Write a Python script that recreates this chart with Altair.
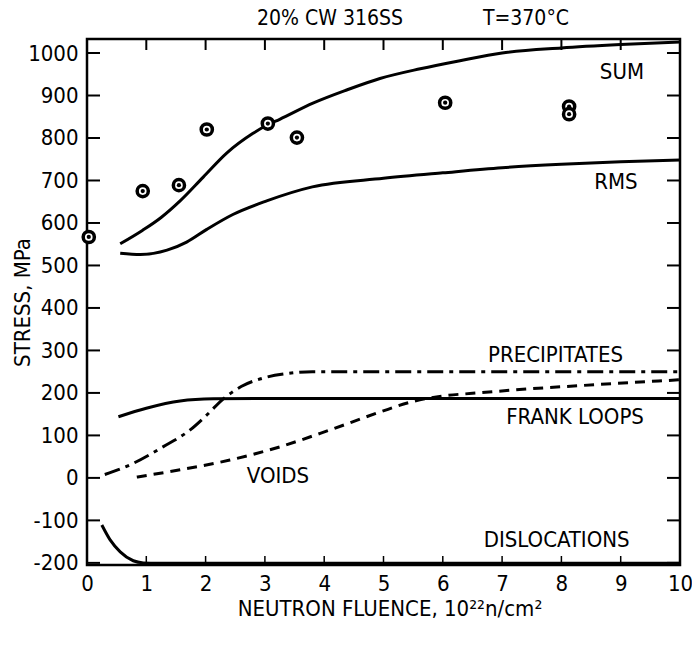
import altair as alt
import pandas as pd

# Curve data: neutron fluence (10^22 n/cm^2) vs. stress contribution (MPa)
sum_x = [0.56, 0.94, 1.25, 1.57, 1.96, 2.36, 2.8, 3.03, 3.25, 3.81, 4.38, 4.94, 5.62, 6.29, 7.0, 8.0, 9.0, 10.0]
sum_y = [551, 583, 613, 652, 708, 765, 811, 830, 844, 882, 913, 940, 963, 982, 1000, 1012, 1020, 1026]

rms_x = [0.56, 0.9, 1.35, 1.68, 2.02, 2.46, 3.03, 3.8, 5.0, 6.0, 7.0, 8.0, 9.0, 10.0]
rms_y = [529, 526, 536, 555, 585, 620, 652, 685, 705, 718, 730, 738, 744, 748]

frank_x = [0.53, 1.0, 1.57, 2.13, 3.0, 10.0]
frank_y = [144, 164, 181, 186, 187, 187]

precip_x = [0.3, 0.73, 1.28, 1.74, 2.02, 2.29, 2.6, 3.0, 3.4, 3.8, 10.0]
precip_y = [8, 31, 73, 113, 148, 185, 215, 236, 246, 250, 250]

voids_x = [0.84, 1.57, 2.41, 3.25, 4.1, 4.94, 5.5, 6.07, 6.5, 7.5, 8.65, 10.0]
voids_y = [2, 19, 42, 73, 113, 155, 180, 194, 199, 210, 220, 231]

disl_x = [0.25, 0.39, 0.56, 0.78, 0.95, 1.2, 10.0]
disl_y = [-111, -146, -174, -195, -200, -201, -201]

# Measured yield stresses
meas_x = [0.03, 0.94, 1.55, 2.02, 3.05, 3.54, 6.04, 8.13, 8.13]
meas_y = [567, 675, 689, 820, 834, 801, 883, 874, 856]

# Curve labels
label_text = ["SUM", "RMS", "PRECIPITATES", "FRANK LOOPS", "VOIDS", "DISLOCATIONS"]
label_x = [9.02, 8.92, 7.9, 8.23, 3.22, 7.92]
label_y = [955, 696, 289, 143, 5, -146]

# Axis ticks
x_ticks = list(range(0, 11))
y_ticks = list(range(-200, 1001, 100))

W, H = 593, 526
FONT = "DejaVu Sans Condensed, Liberation Sans Narrow, sans-serif"
X_DOM = [0, 10]
Y_DOM = [-205, 1033]

xs = alt.Scale(domain=X_DOM, nice=False, zero=False)
ys = alt.Scale(domain=Y_DOM, nice=False, zero=False)

X_AX = alt.Axis(
    values=x_ticks, labelExpr="'' + datum.value", ticks=False, domain=False, grid=False,
    labelFontSize=22, labelFont=FONT, labelPadding=8, labelColor="black", labelFlush=False,
    title="NEUTRON FLUENCE, 10²²n/cm²", titleFont=FONT, titleFontSize=22,
    titleFontWeight="normal", titleColor="black",
    titleX=W / 2 + 6, titleY=43, titleBaseline="middle", titleAlign="center",
)
Y_AX = alt.Axis(
    values=y_ticks, labelExpr="'' + datum.value", ticks=False, domain=False, grid=False,
    labelFontSize=22, labelFont=FONT, labelPadding=9, labelColor="black", labelFlush=False,
    title="STRESS, MPa", titleFont=FONT, titleFontSize=22,
    titleFontWeight="normal", titleColor="black",
    titleX=-65, titleY=H / 2, titleBaseline="middle", titleAlign="center", titleAngle=270,
)


def xq(field):
    return alt.X(f"{field}:Q", scale=xs, axis=X_AX)


def yq(field):
    return alt.Y(f"{field}:Q", scale=ys, axis=Y_AX)


def curve(xv, yv, dash=None):
    kw = dict(color="black", strokeWidth=3, interpolate="monotone", clip=False)
    if dash:
        kw["strokeDash"] = dash
    return alt.Chart(pd.DataFrame({"x": xv, "y": yv})).mark_line(**kw).encode(
        x=xq("x"), y=yq("y"))


# Inward-pointing tick marks on all four sides
ydf = pd.DataFrame({"y": y_ticks})
xdf = pd.DataFrame({"x": x_ticks[1:-1]})
tick_left = alt.Chart(ydf).mark_rule(color="black", strokeWidth=2).encode(
    y=yq("y"), x=alt.value(0), x2=alt.value(13))
tick_right = alt.Chart(ydf).mark_rule(color="black", strokeWidth=2).encode(
    y=yq("y"), x=alt.value(W - 13), x2=alt.value(W))
tick_bottom = alt.Chart(xdf).mark_rule(color="black", strokeWidth=1.5).encode(
    x=xq("x"), y=alt.value(H), y2=alt.value(H - 9))
tick_top = alt.Chart(xdf).mark_rule(color="black", strokeWidth=2).encode(
    x=xq("x"), y=alt.value(0), y2=alt.value(11))

# Plot frame
frame = alt.Chart(pd.DataFrame({"k": [0]})).mark_rect(
    filled=False, stroke="black", strokeWidth=2.5,
).encode(x=alt.value(0), x2=alt.value(W), y=alt.value(0), y2=alt.value(H))

lines = [
    curve(sum_x, sum_y),
    curve(rms_x, rms_y),
    curve(frank_x, frank_y),
    curve(precip_x, precip_y, [16, 6, 4, 6]),
    curve(voids_x, voids_y, [10, 7]),
    curve(disl_x, disl_y),
]

meas_df = pd.DataFrame({"x": meas_x, "y": meas_y})
meas = alt.Chart(meas_df).mark_point(
    shape="circle", filled=True, fill="white", stroke="black", strokeWidth=3.5,
    size=125, opacity=1, clip=False,
).encode(x=xq("x"), y=yq("y"))
meas_core = alt.Chart(meas_df).mark_point(
    shape="circle", filled=True, color="black", size=18, opacity=1, clip=False,
).encode(x=xq("x"), y=yq("y"))

labels = alt.Chart(pd.DataFrame({"t": label_text, "x": label_x, "y": label_y})).mark_text(
    font=FONT, fontSize=22, color="black", align="center", baseline="middle",
).encode(x=xq("x"), y=yq("y"), text="t:N")

header = alt.Chart(pd.DataFrame({"t": ["20% CW 316SS", "T=370°C"], "px": [243, 439]})).mark_text(
    font=FONT, fontSize=21, color="black", align="center", baseline="middle",
).encode(x=alt.X("px:Q", scale=None, axis=None), y=alt.value(-20), text="t:N")

chart = alt.layer(
    frame, tick_left, tick_right, tick_bottom, tick_top,
    *lines, meas, meas_core, labels, header,
).properties(
    width=W, height=H,
    background="white",
    autosize=alt.AutoSizeParams(type="none"),
    padding={"left": 87, "top": 39, "right": 12, "bottom": 85},
).configure_view(stroke=None)

chart.save("out.html", embed_options={"renderer": "svg", "actions": False})
